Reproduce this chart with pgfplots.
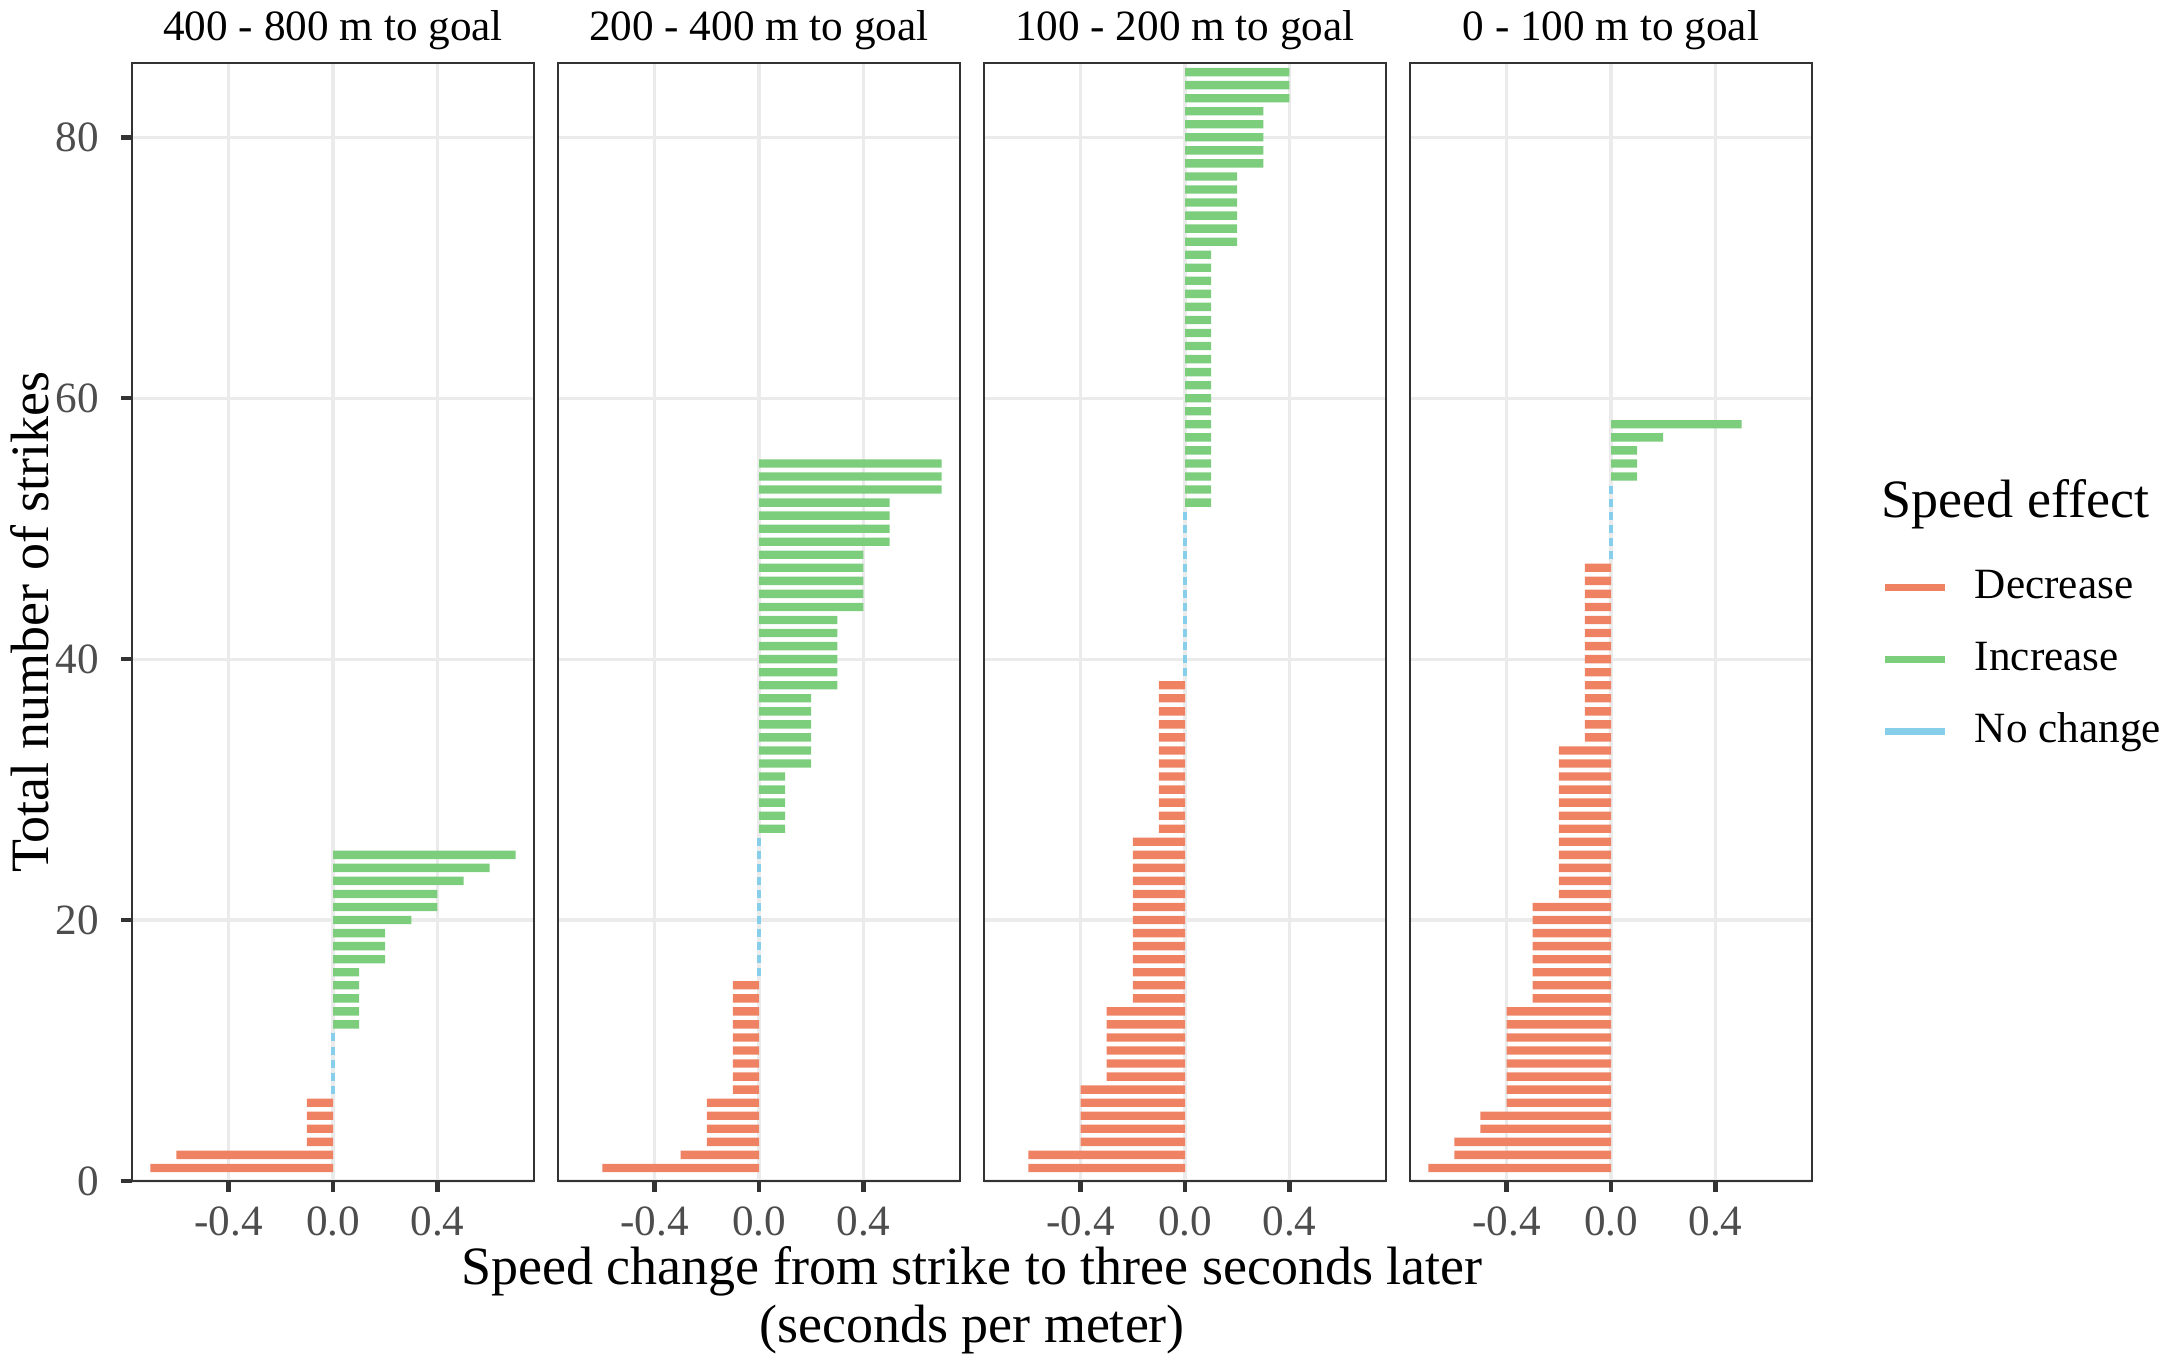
\documentclass[border=0pt]{standalone}
\usepackage{pgfplots}
\pgfplotsset{compat=1.18}
\usepackage{fontspec}
\setmainfont{Liberation Serif}
\definecolor{decr}{HTML}{EE8262}
\definecolor{incr}{HTML}{7CCD7C}
\definecolor{nochg}{HTML}{87CEEB}
\definecolor{gridc}{HTML}{EBEBEB}
\definecolor{framec}{HTML}{333333}
\definecolor{tickc}{HTML}{4D4D4D}
\newcommand{\smallf}{\fontsize{10.8}{13}\selectfont}
\newcommand{\bigf}{\fontsize{13.5}{16}\selectfont}
\pgfplotsset{
  panel/.style={
    scale only axis, width=100.5pt, height=279.5pt,
    anchor=south west,
    xmin=-0.77, xmax=0.77, ymin=0, ymax=85.7,
    xtick={-0.4,0,0.4}, xticklabels={-0.4,0.0,0.4},
    ytick={0,20,40,60,80},
    grid=major,
    major grid style={color=gridc, line width=0.8pt},
    axis line style={color=framec, line width=0.55pt},
    tick align=outside,
    major tick length=2.75pt,
    every tick/.style={color=framec, line width=1.1pt},
    xtick pos=left, ytick pos=left,
    /pgf/number format/assume math mode=true,
    xticklabel style={font=\smallf, color=tickc, anchor=base, inner sep=0pt, yshift=-10.8pt},
    yticklabel style={font=\smallf, color=tickc, anchor=east, inner sep=0pt, xshift=-5.25pt},
    title style={at={(0.5,1)}, anchor=base, yshift=-0.5pt, font=\smallf, color=black},
  },
  decbar/.style={xbar, bar width=0.64, bar shift=0pt, fill=decr, draw=none, forget plot},
  incbar/.style={xbar, bar width=0.64, bar shift=0pt, fill=incr, draw=none, forget plot},
  nochg/.style={only marks, mark=|, mark size=1pt, mark options={color=nochg, line width=1.2pt}, forget plot},
}
\begin{document}
\begin{tikzpicture}
\path[use as bounding box] (0,0) rectangle (541.5pt,341.5pt);
% Panel 1
\begin{axis}[panel, at={(33pt,46.25pt)}, title={400 - 800 m to goal},
  yticklabels={0,20,40,60,80},
  ylabel={Total number of strikes},
  ylabel style={font=\bigf, at={(axis description cs:-0.254,0.5)}, anchor=center}]
\addplot[decbar] coordinates {(-0.7,1) (-0.6,2) (-0.1,3) (-0.1,4) (-0.1,5) (-0.1,6)};
\addplot[nochg] coordinates {(0,7) (0,8) (0,9) (0,10) (0,11)};
\addplot[incbar] coordinates {(0.1,12) (0.1,13) (0.1,14) (0.1,15) (0.1,16)
 (0.2,17) (0.2,18) (0.2,19) (0.3,20) (0.4,21) (0.4,22) (0.5,23) (0.6,24) (0.7,25)};
\end{axis}
% Panel 2
\begin{axis}[panel, at={(139.5pt,46.25pt)}, title={200 - 400 m to goal},
  yticklabels={}, ytick style={draw=none}]
\addplot[decbar] coordinates {(-0.6,1) (-0.3,2) (-0.2,3) (-0.2,4) (-0.2,5) (-0.2,6)
 (-0.1,7) (-0.1,8) (-0.1,9) (-0.1,10) (-0.1,11) (-0.1,12) (-0.1,13) (-0.1,14) (-0.1,15)};
\addplot[nochg] coordinates {(0,16) (0,17) (0,18) (0,19) (0,20) (0,21) (0,22) (0,23) (0,24) (0,25) (0,26)};
\addplot[incbar] coordinates {(0.1,27) (0.1,28) (0.1,29) (0.1,30) (0.1,31)
 (0.2,32) (0.2,33) (0.2,34) (0.2,35) (0.2,36) (0.2,37)
 (0.3,38) (0.3,39) (0.3,40) (0.3,41) (0.3,42) (0.3,43)
 (0.4,44) (0.4,45) (0.4,46) (0.4,47) (0.4,48)
 (0.5,49) (0.5,50) (0.5,51) (0.5,52)
 (0.7,53) (0.7,54) (0.7,55)};
\end{axis}
% Panel 3
\begin{axis}[panel, at={(246pt,46.25pt)}, title={100 - 200 m to goal},
  yticklabels={}, ytick style={draw=none}]
\addplot[decbar] coordinates {(-0.6,1) (-0.6,2)
 (-0.4,3) (-0.4,4) (-0.4,5) (-0.4,6) (-0.4,7)
 (-0.3,8) (-0.3,9) (-0.3,10) (-0.3,11) (-0.3,12) (-0.3,13)
 (-0.2,14) (-0.2,15) (-0.2,16) (-0.2,17) (-0.2,18) (-0.2,19) (-0.2,20) (-0.2,21) (-0.2,22) (-0.2,23) (-0.2,24) (-0.2,25) (-0.2,26)
 (-0.1,27) (-0.1,28) (-0.1,29) (-0.1,30) (-0.1,31) (-0.1,32) (-0.1,33) (-0.1,34) (-0.1,35) (-0.1,36) (-0.1,37) (-0.1,38)};
\addplot[nochg] coordinates {(0,39) (0,40) (0,41) (0,42) (0,43) (0,44) (0,45) (0,46) (0,47) (0,48) (0,49) (0,50) (0,51)};
\addplot[incbar] coordinates {(0.1,52) (0.1,53) (0.1,54) (0.1,55) (0.1,56) (0.1,57) (0.1,58) (0.1,59) (0.1,60) (0.1,61)
 (0.1,62) (0.1,63) (0.1,64) (0.1,65) (0.1,66) (0.1,67) (0.1,68) (0.1,69) (0.1,70) (0.1,71)
 (0.2,72) (0.2,73) (0.2,74) (0.2,75) (0.2,76) (0.2,77)
 (0.3,78) (0.3,79) (0.3,80) (0.3,81) (0.3,82)
 (0.4,83) (0.4,84) (0.4,85)};
\end{axis}
% Panel 4
\begin{axis}[panel, at={(352.5pt,46.25pt)}, title={0 - 100 m to goal},
  yticklabels={}, ytick style={draw=none},
  legend image code/.code={\draw[#1, line width=1.75pt] (0pt,0pt) -- (15pt,0pt);},
  legend cell align=left,
  legend style={at={(axis description cs:1.174,0.550)}, anchor=north west,
    draw=none, fill=none, inner sep=0pt, outer sep=0pt, row sep=7.5pt, column sep=6.5pt, font=\smallf,
    nodes={text height=8pt, text depth=2.5pt, inner sep=0pt}}]
\addplot[decbar] coordinates {(-0.7,1) (-0.6,2) (-0.6,3) (-0.5,4) (-0.5,5)
 (-0.4,6) (-0.4,7) (-0.4,8) (-0.4,9) (-0.4,10) (-0.4,11) (-0.4,12) (-0.4,13)
 (-0.3,14) (-0.3,15) (-0.3,16) (-0.3,17) (-0.3,18) (-0.3,19) (-0.3,20) (-0.3,21)
 (-0.2,22) (-0.2,23) (-0.2,24) (-0.2,25) (-0.2,26) (-0.2,27) (-0.2,28) (-0.2,29) (-0.2,30) (-0.2,31) (-0.2,32) (-0.2,33)
 (-0.1,34) (-0.1,35) (-0.1,36) (-0.1,37) (-0.1,38) (-0.1,39) (-0.1,40) (-0.1,41) (-0.1,42) (-0.1,43) (-0.1,44) (-0.1,45) (-0.1,46) (-0.1,47)};
\addplot[nochg] coordinates {(0,48) (0,49) (0,50) (0,51) (0,52) (0,53)};
\addplot[incbar] coordinates {(0.1,54) (0.1,55) (0.1,56) (0.2,57) (0.5,58)};
\addlegendimage{color=decr}\addlegendentry{Decrease}
\addlegendimage{color=incr}\addlegendentry{Increase}
\addlegendimage{color=nochg}\addlegendentry{No change}
\end{axis}
\node[anchor=base west, inner sep=0pt, font=\bigf] at (470.25pt,212pt) {Speed effect};
\node[anchor=base, inner sep=0pt, font=\bigf] at (243pt,20.25pt) {Speed change from strike to three seconds later};
\node[anchor=base, inner sep=0pt, font=\bigf] at (243pt,5.75pt) {(seconds per meter)};
\end{tikzpicture}
\end{document}
